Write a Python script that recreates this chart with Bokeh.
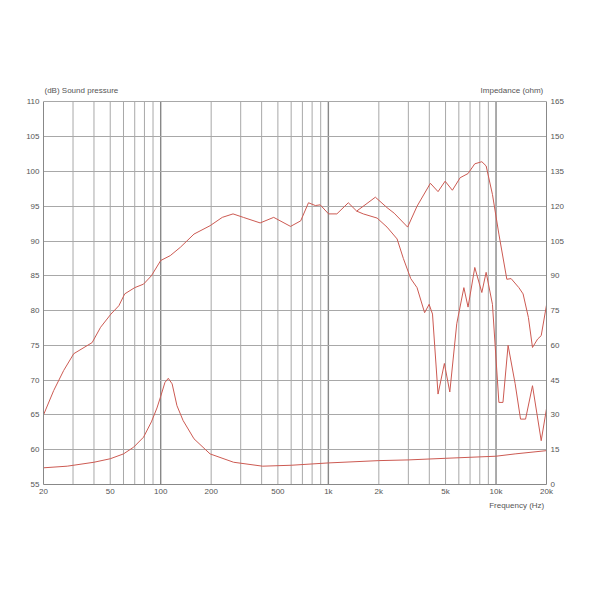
from bokeh.plotting import figure
from bokeh.models import Range1d, LinearAxis, FixedTicker, Label, Title
from bokeh.embed import file_html
from bokeh.resources import INLINE

# sound pressure, part shared by both measurements (Hz, dB)
spl_freq = [20, 23, 26.4, 30.3, 39, 43.8, 50.5, 56.3, 61, 70, 79, 88, 100, 114, 131,
            158, 197, 233, 270, 311, 392, 472, 595, 684, 761, 836, 894, 1003, 1124,
            1315, 1475]
spl_db = [65.0, 68.5, 71.4, 73.8, 75.4, 77.6, 79.5, 80.7, 82.4, 83.3, 83.8, 85.0, 87.2,
          87.9, 89.1, 91.0, 92.2, 93.4, 93.9, 93.4, 92.6, 93.4, 92.1, 92.9, 95.5, 95.1,
          95.2, 93.9, 93.9, 95.5, 94.3]

# upper branch above 1.5 kHz
upper_freq = [1475, 1700, 1907, 2238, 2470, 2970, 3380, 4060, 4510, 4970, 5490, 6110,
              6810, 7470, 8230, 8730, 9520, 10400, 11600, 12300, 13680, 14500, 15600,
              16500, 17700, 18600, 20000]
upper_db = [94.3, 95.4, 96.3, 94.8, 94.0, 92.0, 95.0, 98.3, 97.1, 98.6, 97.3, 99.1,
            99.7, 101.1, 101.4, 100.8, 96.7, 91.0, 84.5, 84.6, 83.3, 82.4, 79.0,
            74.7, 75.9, 76.4, 80.8]

# lower branch above 1.5 kHz
lower_freq = [1475, 1615, 1953, 2238, 2570, 2800, 3100, 3380, 3750, 3990, 4180, 4510,
              4920, 5300, 5830, 6430, 6810, 7470, 8230, 8730, 9520, 10400, 11000,
              11800, 13000, 14000, 15000, 16500, 18600, 20000]
lower_db = [94.3, 93.9, 93.3, 92.0, 90.3, 87.5, 84.6, 83.3, 79.7, 80.9, 79.5, 68.0,
            72.4, 68.3, 78.1, 83.3, 80.5, 86.2, 82.6, 85.5, 80.9, 66.8, 66.8,
            75.0, 69.5, 64.4, 64.4, 69.2, 61.3, 65.9]

# impedance (Hz, ohm)
imp_freq = [20, 27.7, 40, 50, 60, 69, 79, 88, 95, 100, 106, 111, 117, 125, 136, 158,
            197, 272, 405, 600, 1000, 2000, 3000, 5000, 10000, 13000, 20000]
imp_ohm = [7.2, 7.9, 9.6, 11.1, 13.2, 16.1, 20.4, 27.0, 33.0, 38.0, 44.0, 45.8, 43.4,
           34.0, 27.6, 19.7, 13.2, 9.6, 7.9, 8.3, 9.3, 10.3, 10.6, 11.3, 12.2, 13.2, 14.6]

x_labels = [20, 50, 100, 200, 500, 1000, 2000, 5000, 10000, 20000]
x_label_text = ["20", "50", "100", "200", "500", "1k", "2k", "5k", "10k", "20k"]
x_grid = [30, 40, 50, 60, 70, 80, 90, 200, 300, 400, 500, 600, 700, 800, 900,
          2000, 3000, 4000, 5000, 6000, 7000, 8000, 9000, 20000]
x_decades = [100, 1000, 10000]
db_ticks = list(range(55, 111, 5))
ohm_ticks = list(range(0, 166, 15))

FONT = "Liberation Sans"
TXT = "#555555"
CURVE = "#cc5a52"
GRID = "#a8a8a8"

# frame reaches a bit above 110 dB so the captions fit inside it
p = figure(width=574, height=574, x_axis_type="log",
           x_range=Range1d(20, 20000), y_range=Range1d(55, 112.5),
           output_backend="svg", toolbar_location=None,
           min_border_left=43, min_border_right=28,
           min_border_top=84, min_border_bottom=90)
p.background_fill_color = "white"
p.border_fill_color = "white"
p.outline_line_color = None

p.extra_y_ranges = {"imp": Range1d(0, 172.5)}
p.add_layout(LinearAxis(y_range_name="imp"), "right")

for ax in p.axis:
    ax.axis_line_color = "#888888"
    ax.major_tick_line_color = None
    ax.minor_tick_line_color = None
    ax.major_tick_out = 0
    ax.major_tick_in = 0
    ax.minor_tick_out = 0
    ax.major_label_text_font = FONT
    ax.major_label_text_font_size = "8px"
    ax.major_label_text_color = TXT
    ax.major_label_standoff = 4

p.xaxis.ticker = FixedTicker(ticks=x_labels)
p.xaxis.major_label_overrides = {v: t for v, t in zip(x_labels, x_label_text)}
p.xaxis.major_label_standoff = 2
p.yaxis[0].ticker = FixedTicker(ticks=db_ticks)
p.yaxis[0].bounds = (55, 110)
p.yaxis[1].ticker = FixedTicker(ticks=ohm_ticks)
p.yaxis[1].bounds = (0, 165)

# frequency caption under the tick labels, flush with the frame's right edge
p.add_layout(Title(text="Frequency  (Hz)", align="right", standoff=0,
                   text_font=FONT, text_font_size="8px", text_font_style="normal",
                   text_color=TXT), "below")

p.xgrid.grid_line_color = None
p.ygrid.ticker = FixedTicker(ticks=db_ticks[1:])
p.ygrid.grid_line_color = GRID

# vertical grid lines, only between 55 and 110 dB
p.segment(x0=x_grid, y0=[55] * len(x_grid), x1=x_grid, y1=[110] * len(x_grid),
          line_color=GRID, line_width=1, level="underlay")
p.segment(x0=x_decades, y0=[55] * 3, x1=x_decades, y1=[110] * 3,
          line_color="#888888", line_width=1.4, level="underlay")

p.line(spl_freq, spl_db, line_color=CURVE, line_width=1)
p.line(upper_freq, upper_db, line_color=CURVE, line_width=1)
p.line(lower_freq, lower_db, line_color=CURVE, line_width=1)
p.line(imp_freq, imp_ohm, line_color=CURVE, line_width=1, y_range_name="imp")

p.add_layout(Label(x=20, y=110, x_offset=1, y_offset=7, text="(dB)  Sound pressure",
                   text_font=FONT, text_font_size="8px", text_color=TXT,
                   text_baseline="bottom", text_align="left"))
p.add_layout(Label(x=20000, y=110, x_offset=-1, y_offset=7, text="Impedance  (ohm)",
                   text_font=FONT, text_font_size="8px", text_color=TXT,
                   text_baseline="bottom", text_align="right"))

open("out.html", "w").write(file_html(p, INLINE))
